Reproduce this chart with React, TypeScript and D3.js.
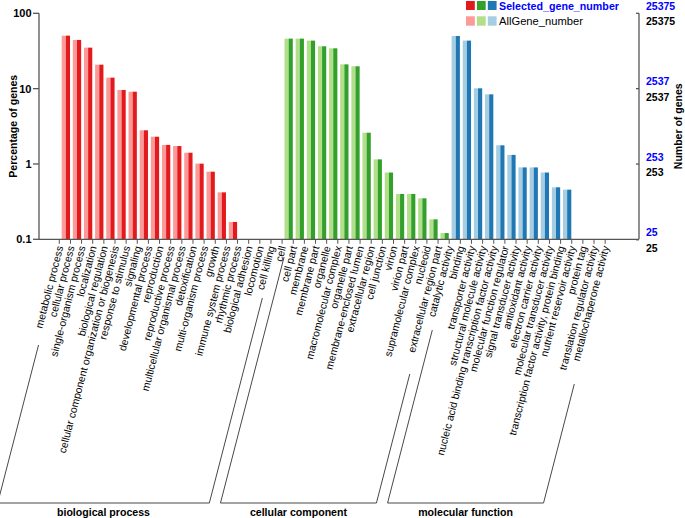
import React from 'react';
import * as d3 from 'd3';

const W = 685;
const H = 518;

// ---- data ----
const groupNames = ['biological process', 'cellular component', 'molecular function'];

const bpTerms = [
  'metabolic process', 'cellular process', 'single-organism process', 'localization',
  'biological regulation', 'cellular component organization or biogenesis', 'response to stimulus',
  'signaling', 'developmental process', 'reproduction', 'reproductive process',
  'multicellular organismal process', 'detoxification', 'multi-organism process', 'growth',
  'immune system process', 'rhythmic process', 'biological adhesion', 'locomotion', 'cell killing',
];
const ccTerms = [
  'cell', 'cell part', 'membrane', 'membrane part', 'organelle', 'macromolecular complex',
  'organelle part', 'membrane-enclosed lumen', 'extracellular region', 'cell junction', 'virion',
  'virion part', 'supramolecular complex', 'nucleoid', 'extracellular region part',
];
const mfTerms = [
  'catalytic activity', 'binding', 'transporter activity', 'structural molecule activity',
  'nucleic acid binding transcription factor activity', 'molecular function regulator',
  'signal transducer activity', 'antioxidant activity', 'electron carrier activity',
  'molecular transducer activity', 'transcription factor activity, protein binding',
  'nutrient reservoir activity', 'protein tag', 'translation regulator activity',
  'metallochaperone activity',
];

// percentage of genes (0 = no bar)
const bpAllGene = [50.5, 44.3, 35.0, 20.8, 14.0, 9.6, 9.1, 2.8, 2.3, 1.79, 1.73, 1.41, 1.01, 0.79, 0.42, 0.17, 0, 0, 0, 0];
const bpSelected = [50.5, 44.3, 35.0, 20.8, 14.0, 9.6, 9.1, 2.8, 2.3, 1.79, 1.73, 1.41, 1.01, 0.79, 0.42, 0.17, 0, 0, 0, 0];
const ccAllGene = [46.1, 46.1, 43.4, 36.5, 34.3, 21.0, 19.8, 2.6, 1.15, 0.77, 0.40, 0.40, 0.35, 0.184, 0.121];
const ccSelected = [46.1, 46.1, 43.4, 36.5, 34.3, 21.0, 19.8, 2.6, 1.15, 0.77, 0.40, 0.40, 0.35, 0.184, 0.121];
const mfAllGene = [50.0, 43.4, 10.1, 8.4, 1.77, 1.32, 0.90, 0.90, 0.77, 0.49, 0.456, 0, 0, 0, 0];
const mfSelected = [50.0, 43.4, 10.1, 8.4, 1.77, 1.32, 0.90, 0.90, 0.77, 0.49, 0.456, 0, 0, 0, 0];

const leftTicks = [0.1, 1, 10, 100];
const leftTickLabels = ['0.1', '1', '10', '100'];
const totalGenes = 25375;
const rightTicksSelected = ['25375', '2537', '253', '25'];
const rightTicksAll = ['25375', '2537', '253', '25'];
const rightTickValues = [25375, 2537, 253, 25];

const legendLabels = ['Selected_gene_number', 'AllGene_number'];

// ---- style ----
const groupColors = [
  { light: '#fb9a99', dark: '#e31a1c' },
  { light: '#b2df8a', dark: '#33a02c' },
  { light: '#a6cee3', dark: '#1f78b4' },
];
const FONT = "'Liberation Sans', Arial, Helvetica, sans-serif";
const AXIS = '#555';

// layout
const plotL = 39;
const plotR = 639;
const plotT = 13.3;
const plotB = 239.3;
const bandX0 = 59.3;
const bandStep = 11.14;
const ANG = 75.5; // label angle
const COT = 1 / Math.tan((ANG * Math.PI) / 180);
const bracketY = 503;
// top ends (y) of slanted bracket lines: [left, right] per group
const bracketTops = [
  [345, 298],
  [257, 374],
  [330, 384],
];

type Row = { term: string; group: number; all: number; sel: number };

export default function App() {
  const groups = [
    { terms: bpTerms, all: bpAllGene, sel: bpSelected },
    { terms: ccTerms, all: ccAllGene, sel: ccSelected },
    { terms: mfTerms, all: mfAllGene, sel: mfSelected },
  ];
  const rows: Row[] = [];
  groups.forEach((g, gi) =>
    g.terms.forEach((t, i) => rows.push({ term: t, group: gi, all: g.all[i], sel: g.sel[i] }))
  );
  const keys = rows.map((r, i) => i);

  const x = d3
    .scaleBand<number>()
    .domain(keys)
    .range([bandX0, bandX0 + bandStep * keys.length])
    .padding(0);
  const sub = d3.scaleBand<string>().domain(['all', 'sel']).range([2.4, 10.7]).padding(0);
  const y = d3.scaleLog().domain([0.1, 100]).range([plotB, plotT]);
  const yR = d3.scaleLog().domain([totalGenes / 1000, totalGenes]).range([plotB, plotT]);

  const center = (i: number) => (x(i) as number) + bandStep / 2 + 1;

  // group ranges
  let start = 0;
  const ranges = groups.map((g) => {
    const r = [start, start + g.terms.length - 1];
    start += g.terms.length;
    return r;
  });

  const lineAt = (i: number, yy: number) => center(i) - (yy - plotB) * COT;

  return (
    <svg
      width={W}
      height={H}
      style={{ position: 'absolute', left: 0, top: 0, background: '#fff' }}
      fontFamily={FONT}
    >
      {/* bars */}
      {rows.map((r, i) => {
        const c = groupColors[r.group];
        return (
          <g key={'b' + i}>
            {r.all > 0.1 && (
              <rect
                x={(x(i) as number) + (sub('all') as number)}
                width={sub.bandwidth()}
                y={y(r.all)}
                height={plotB - y(r.all)}
                fill={c.light}
              />
            )}
            {r.sel > 0.1 && (
              <rect
                x={(x(i) as number) + (sub('sel') as number)}
                width={sub.bandwidth()}
                y={y(r.sel)}
                height={plotB - y(r.sel)}
                fill={c.dark}
              />
            )}
          </g>
        );
      })}

      {/* left axis */}
      <line x1={plotL} x2={plotL} y1={plotT} y2={plotB} stroke={AXIS} strokeWidth={1.3} />
      {leftTicks.map((v, i) => (
        <g key={'lt' + i}>
          <line x1={plotL - 6} x2={plotL} y1={y(v)} y2={y(v)} stroke={AXIS} strokeWidth={1.3} />
          <text
            x={plotL - 7.5}
            y={y(v)}
            textAnchor="end"
            dominantBaseline="central"
            fontSize={11}
            fontWeight="bold"
            fill="#000"
          >
            {leftTickLabels[i]}
          </text>
        </g>
      ))}
      <text
        transform={`translate(12.5, ${(plotT + plotB) / 2}) rotate(-90)`}
        textAnchor="middle"
        dominantBaseline="central"
        fontSize={10.5}
        fontWeight="bold"
      >
        Percentage of genes
      </text>

      {/* right axis */}
      <line x1={plotR} x2={plotR} y1={plotT} y2={plotB} stroke={AXIS} strokeWidth={1.3} />
      {rightTickValues.map((v, i) => (
        <g key={'rt' + i}>
          <line x1={plotR - 3} x2={plotR} y1={yR(v)} y2={yR(v)} stroke={AXIS} strokeWidth={1.3} />
          <text x={646} y={yR(v) - 7.5} dominantBaseline="central" fontSize={10.5} fontWeight="bold" fill="#0000ff">
            {rightTicksSelected[i]}
          </text>
          <text x={646} y={yR(v) + 8} dominantBaseline="central" fontSize={10.5} fontWeight="bold" fill="#000">
            {rightTicksAll[i]}
          </text>
        </g>
      ))}
      <text
        transform={`translate(678, ${(plotT + plotB) / 2}) rotate(-90)`}
        textAnchor="middle"
        dominantBaseline="central"
        fontSize={10.5}
        fontWeight="bold"
      >
        Number of genes
      </text>

      {/* x axis */}
      <line x1={plotL} x2={plotR} y1={plotB} y2={plotB} stroke={AXIS} strokeWidth={1.3} />
      {keys.map((i) => (
        <line
          key={'xt' + i}
          x1={x(i) as number}
          x2={x(i) as number}
          y1={plotB}
          y2={plotB + 4.5}
          stroke={AXIS}
          strokeWidth={1}
        />
      ))}
      {rows.map((r, i) => {
        const ay = 247;
        const ax = lineAt(i, ay) - 0.5;
        return (
          <text
            key={'xl' + i}
            transform={`translate(${ax}, ${ay}) rotate(${-ANG})`}
            textAnchor="end"
            fontSize={10.5}
            fill="#000"
          >
            {r.term}
          </text>
        );
      })}

      {/* group brackets */}
      {ranges.map(([a, b], gi) => {
        const [lt, rt] = bracketTops[gi];
        const lx0 = lineAt(a, lt);
        const lx1 = lineAt(a, bracketY);
        const rx0 = lineAt(b, rt);
        const rx1 = lineAt(b, bracketY);
        return (
          <g key={'br' + gi}>
            <path
              d={`M${lx0},${lt} L${lx1},${bracketY} L${rx1},${bracketY} L${rx0},${rt}`}
              fill="none"
              stroke="#333"
              strokeWidth={0.9}
            />
            <text
              x={(lx1 + rx1) / 2}
              y={511.5}
              textAnchor="middle"
              dominantBaseline="central"
              fontSize={10.6}
              fontWeight="bold"
            >
              {groupNames[gi]}
            </text>
          </g>
        );
      })}

      {/* legend */}
      {groupColors.map((c, i) => (
        <g key={'lg' + i}>
          <rect x={466 + i * 10.9} y={1} width={8.8} height={9} fill={c.dark} />
          <rect x={466 + i * 10.9} y={16.3} width={8.8} height={9.4} fill={c.light} />
        </g>
      ))}
      <text x={499} y={5.8} dominantBaseline="central" fontSize={10.7} fontWeight="bold" fill="#0000ff">
        {legendLabels[0]}
      </text>
      <text x={499} y={21} dominantBaseline="central" fontSize={11.2} fill="#000">
        {legendLabels[1]}
      </text>
    </svg>
  );
}
